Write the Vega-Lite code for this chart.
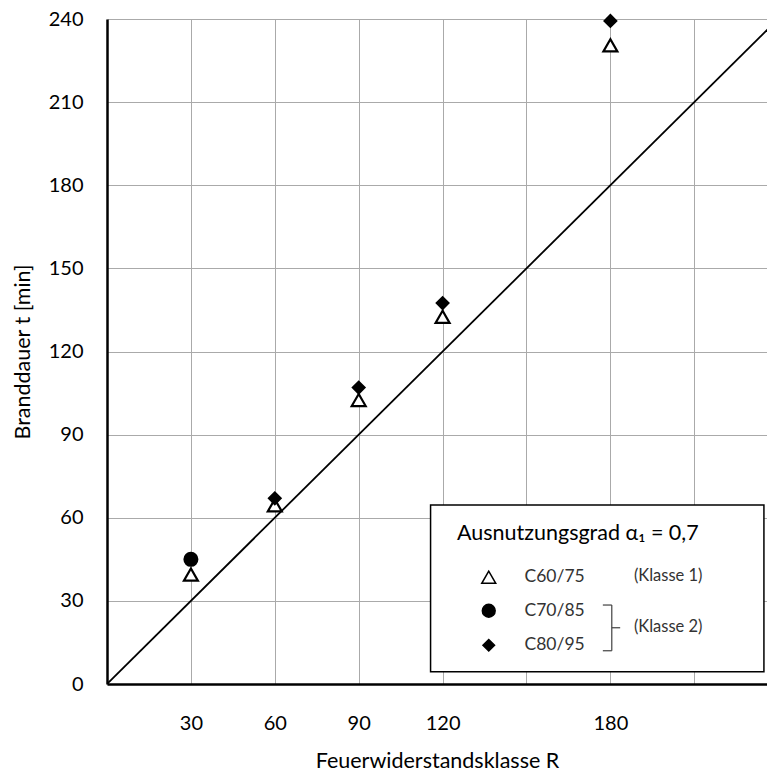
{
  "$schema": "https://vega.github.io/schema/vega-lite/v6.json",
  "autosize": "none",
  "width": 660,
  "height": 665,
  "padding": {"left": 107, "top": 19, "right": 0, "bottom": 89},
  "background": "white",
  "config": {
    "view": {"stroke": null},
    "font": "Lato",
    "axis": {
      "labelFont": "Lato",
      "titleFont": "Lato",
      "labelFontSize": 20,
      "titleFontSize": 21.5,
      "titleFontWeight": "normal",
      "labelColor": "#000000",
      "titleColor": "#000000",
      "ticks": false,
      "domainColor": "#000000",
      "domainWidth": 2.5,
      "gridColor": "#aaaaaa",
      "gridWidth": 1,
      "gridOpacity": 1
    },
    "legend": {
      "orient": "none",
      "legendX": 350,
      "legendY": 504,
      "padding": 0,
      "zindex": 1,
      "titleFont": "Lato",
      "titleFontSize": 21.5,
      "titleFontWeight": "normal",
      "titleColor": "#000000",
      "titleLimit": 500,
      "titlePadding": 24,
      "labelFont": "Lato",
      "labelFontSize": 17.5,
      "labelColor": "#333333",
      "symbolOffset": 23,
      "labelOffset": 27,
      "rowPadding": 14.5
    }
  },
  "datasets": {
    "points": [
      {"R": 30, "t": 39.5, "Beton": "C60/75"},
      {"R": 60, "t": 64.5, "Beton": "C60/75"},
      {"R": 90, "t": 102.5, "Beton": "C60/75"},
      {"R": 120, "t": 132.5, "Beton": "C60/75"},
      {"R": 180, "t": 230.5, "Beton": "C60/75"},
      {"R": 30, "t": 45, "Beton": "C70/85"},
      {"R": 60, "t": 67, "Beton": "C80/95"},
      {"R": 90, "t": 107, "Beton": "C80/95"},
      {"R": 120, "t": 137.5, "Beton": "C80/95"},
      {"R": 180, "t": 239.3, "Beton": "C80/95"}
    ],
    "diagonal": [
      {"R": 0, "t": 0},
      {"R": 240, "t": 240}
    ],
    "one": [{}]
  },
  "layer": [
    {
      "data": {"name": "diagonal"},
      "mark": {"type": "line", "color": "#000000", "strokeWidth": 1.8, "clip": true},
      "encoding": {
        "x": {
          "field": "R", "type": "quantitative",
          "scale": {"domain": [0, 236], "nice": false, "zero": true},
          "axis": {
            "title": "Feuerwiderstandsklasse R",
            "values": [30, 60, 90, 120, 150, 180, 210],
            "labelExpr": "datum.value == 150 || datum.value == 210 ? '' : datum.label",
            "labelPadding": 29,
            "titlePadding": 17,
            "grid": true
          }
        },
        "y": {
          "field": "t", "type": "quantitative",
          "scale": {"domain": [0, 240], "nice": false, "zero": true},
          "axis": {
            "title": "Branddauer t [min]",
            "values": [0, 30, 60, 90, 120, 150, 180, 210, 240],
            "labelPadding": 24,
            "titlePadding": 14,
            "grid": true
          }
        }
      }
    },
    {
      "data": {"name": "one"},
      "mark": {"type": "rect", "fill": "white", "stroke": "#000000", "strokeWidth": 1.5},
      "encoding": {
        "x": {"datum": 115.7, "type": "quantitative"},
        "x2": {"datum": 234.9},
        "y": {"datum": 64.6, "type": "quantitative"},
        "y2": {"datum": 4.4}
      }
    },
    {
      "data": {"name": "points"},
      "mark": {"type": "point", "filled": true, "stroke": "#000000", "strokeWidth": 2.2, "opacity": 1},
      "encoding": {
        "x": {"field": "R", "type": "quantitative"},
        "y": {"field": "t", "type": "quantitative"},
        "shape": {
          "field": "Beton", "type": "nominal",
          "scale": {"domain": ["C60/75", "C70/85", "C80/95"], "range": ["triangle-up", "circle", "diamond"]},
          "legend": {
            "title": "Ausnutzungsgrad α₁ = 0,7",
            "encode": {"symbols": {"update": {"stroke": {"value": "#000000"}, "strokeWidth": {"value": 2.2}, "opacity": {"value": 1}}}}
          }
        },
        "fill": {
          "field": "Beton", "type": "nominal",
          "scale": {"domain": ["C60/75", "C70/85", "C80/95"], "range": ["white", "black", "black"]},
          "legend": {
            "title": "Ausnutzungsgrad α₁ = 0,7",
            "encode": {"symbols": {"update": {"stroke": {"value": "#000000"}, "strokeWidth": {"value": 2.2}, "opacity": {"value": 1}}}}
          }
        },
        "size": {
          "field": "Beton", "type": "nominal",
          "scale": {"domain": ["C60/75", "C70/85", "C80/95"], "range": [195, 135, 115]},
          "legend": {
            "title": "Ausnutzungsgrad α₁ = 0,7",
            "encode": {"symbols": {"update": {"stroke": {"value": "#000000"}, "strokeWidth": {"value": 2.2}, "opacity": {"value": 1}}}}
          }
        },
        "order": {"field": "Beton", "type": "nominal"}
      }
    },
    {
      "data": {"name": "one"},
      "mark": {"type": "text", "text": "(Klasse 1)", "align": "left", "baseline": "middle", "font": "Lato", "fontSize": 16.5, "color": "#333333"},
      "encoding": {
        "x": {"datum": 188.4, "type": "quantitative"},
        "y": {"datum": 39.0, "type": "quantitative"}
      }
    },
    {
      "data": {"name": "one"},
      "mark": {"type": "text", "text": "(Klasse 2)", "align": "left", "baseline": "middle", "font": "Lato", "fontSize": 16.5, "color": "#333333"},
      "encoding": {
        "x": {"datum": 188.4, "type": "quantitative"},
        "y": {"datum": 20.4, "type": "quantitative"}
      }
    },
    {
      "data": {"name": "one"},
      "mark": {"type": "rule", "color": "#404040", "strokeWidth": 1.2},
      "encoding": {
        "x": {"datum": 177.3, "type": "quantitative"},
        "x2": {"datum": 180.5},
        "y": {"datum": 28.5, "type": "quantitative"}
      }
    },
    {
      "data": {"name": "one"},
      "mark": {"type": "rule", "color": "#404040", "strokeWidth": 1.2},
      "encoding": {
        "x": {"datum": 180.5, "type": "quantitative"},
        "y": {"datum": 28.5, "type": "quantitative"},
        "y2": {"datum": 12.0}
      }
    },
    {
      "data": {"name": "one"},
      "mark": {"type": "rule", "color": "#404040", "strokeWidth": 1.2},
      "encoding": {
        "x": {"datum": 177.3, "type": "quantitative"},
        "x2": {"datum": 180.5},
        "y": {"datum": 12.0, "type": "quantitative"}
      }
    },
    {
      "data": {"name": "one"},
      "mark": {"type": "rule", "color": "#404040", "strokeWidth": 1.2},
      "encoding": {
        "x": {"datum": 180.5, "type": "quantitative"},
        "x2": {"datum": 183.5},
        "y": {"datum": 20.3, "type": "quantitative"}
      }
    }
  ]
}
